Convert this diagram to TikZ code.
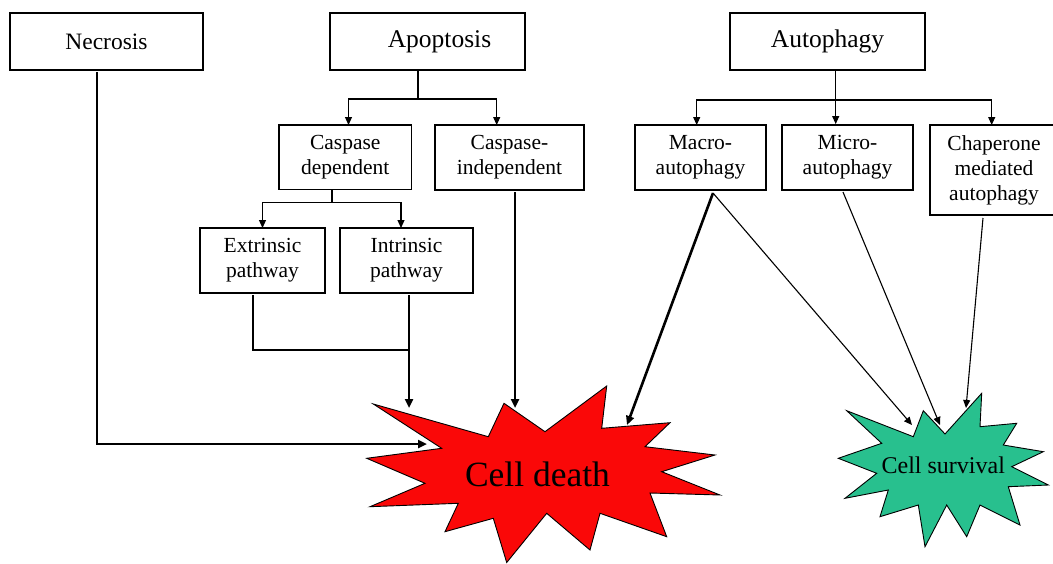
\documentclass[tikz,border=0pt]{standalone}
\usepackage{fontspec}
\setmainfont{Liberation Serif}
\usetikzlibrary{arrows.meta}
\definecolor{deathred}{RGB}{250,8,8}
\definecolor{survgreen}{RGB}{40,192,142}
\begin{document}
\begin{tikzpicture}[x=1pt,y=-1pt,
  box/.style={draw,line width=1.9pt,inner sep=0pt,align=center,font=\fontsize{21.5}{25}\selectfont},
  bigbox/.style={box,font=\fontsize{25.5}{30}\selectfont},
  thinc/.style={line width=1.1pt},
  thina/.style={line width=1.1pt,-{Triangle[length=8pt,width=7pt]}},
  thickc/.style={line width=2.6pt},
  thicka/.style={line width=2.6pt,-{Triangle[length=9pt,width=8pt]}},
  star/.style={draw=black,line width=0.9pt,line join=miter},
]
\useasboundingbox (0,0) rectangle (1053,563);

% top boxes
\node[bigbox,minimum width=193pt,minimum height=57pt,font=\fontsize{23.5}{28}\selectfont] (necro) at (106.5,41.5) {Necrosis};
\node[bigbox,minimum width=195pt,minimum height=57pt] (apo) at (427.5,41.5) {\hspace*{24pt}Apoptosis};
\node[bigbox,minimum width=195pt,minimum height=57pt] (auto) at (827.5,41.5) {Autophagy};

% second row
\node[box,minimum width=132.5pt,minimum height=64.5pt] (cdep) at (345.25,157.25) {Caspase\\dependent};
\node[box,minimum width=149pt,minimum height=65pt] (cind) at (509.5,157.5) {Caspase-\\independent};
\node[box,minimum width=131pt,minimum height=65pt] (macro) at (700.5,157.5) {Macro-\\autophagy};
\node[box,minimum width=131pt,minimum height=65pt] (micro) at (847.5,157.5) {Micro-\\autophagy};
\node[box,minimum width=128pt,minimum height=90pt] (chap) at (994,170) {Chaperone\\mediated\\autophagy};

% third row
\node[box,minimum width=125pt,minimum height=65pt] (extr) at (262.5,260.5) {Extrinsic\\pathway};
\node[box,minimum width=133pt,minimum height=65pt] (intr) at (406.5,260.5) {Intrinsic\\pathway};

% starbursts
\draw[star,fill=deathred] (373.3,404) -- (488.3,436.7) -- (504,403.3) -- (545,431.7) -- (606.7,386) -- (601.7,428.3) -- (670,422.7) -- (645,446.7) -- (715,455) -- (661.7,471.7) -- (720,495) -- (650,493) -- (666.7,536.7) -- (600,513.3) -- (590,550) -- (546.7,513.3) -- (506.7,562.5) -- (493.3,518.3) -- (445,531.7) -- (458.3,503.3) -- (370,506.7) -- (425,483.3) -- (366.7,458.3) -- (441.7,448.3) -- cycle;
\node[anchor=base,inner sep=0pt,font=\fontsize{35.5}{40}\selectfont] (death) at (537.5,486) {Cell death};

\draw[star,fill=survgreen] (846.7,410.7) -- (913.3,436.7) -- (923.3,410.7) -- (945,434) -- (981.7,393.3) -- (980,426.7) -- (1016.7,423.3) -- (1003.3,445) -- (1043.3,451.7) -- (1011.7,466.7) -- (1048.3,485) -- (1008.3,486.7) -- (1020,525) -- (980,505) -- (966.7,536.7) -- (946.7,505) -- (925,546.7) -- (918.3,505) -- (880,516.7) -- (888.3,490) -- (845,498.3) -- (876.7,473.3) -- (838.3,458.3) -- (881.7,443.3) -- cycle;
\node[anchor=base,inner sep=0pt,font=\fontsize{24}{28}\selectfont] (surv) at (943.3,473.3) {Cell survival};

% connector coordinates
\coordinate (ja) at (418,99);
\coordinate (cdepin) at (348.5,125);
\coordinate (cindin) at (496.7,125);
\coordinate (jc) at (332,202.5);
\coordinate (extrin) at (262.5,228);
\coordinate (intrin) at (401,228);
\coordinate (jau) at (835.7,100);
\coordinate (macroin) at (696.7,125);
\coordinate (chapin) at (991.7,125);
\coordinate (necroout) at (97,72);
\coordinate (necrobend) at (97,444);
\coordinate (deathL) at (427,444);
\coordinate (extrout) at (253,295);
\coordinate (extrbend) at (253,350);
\coordinate (introut) at (409,295);
\coordinate (intrjoin) at (409,350);
\coordinate (deathA) at (409,408);
\coordinate (cindout) at (515,192);
\coordinate (deathB) at (515,408);
\coordinate (macroout) at (713,193);
\coordinate (deathC) at (627,425);
\coordinate (survA) at (912,425);
\coordinate (microout) at (843,192);
\coordinate (survB) at (940,425);
\coordinate (chapout) at (983,218);
\coordinate (survC) at (966,408);

% apoptosis branches
\draw[thinc] (apo.south -| ja) -- (ja);
\draw[thina] (ja) -| (cdepin);
\draw[thina] (ja) -| (cindin);
% caspase dependent branches
\draw[thinc] (cdep.south -| jc) -- (jc);
\draw[thina] (jc) -| (extrin);
\draw[thina] (jc) -| (intrin);
% autophagy branches
\draw[thina] (auto.south -| jau) -- (micro.north -| jau);
\draw[thina] (jau) -| (macroin);
\draw[thina] (jau) -| (chapin);

% to cell death
\draw[thicka] (necroout) -- (necrobend) -- (deathL);
\draw[thickc,line join=miter] (extrout) -- (extrbend) -- (intrjoin);
\draw[thicka] (introut) -- (deathA);
\draw[thicka] (cindout) -- (deathB);
\draw[thicka] (macroout) -- (deathC);

% to cell survival
\draw[thina] (macroout) -- (survA);
\draw[thina] (microout) -- (survB);
\draw[thina] (chapout) -- (survC);
\end{tikzpicture}
\end{document}
